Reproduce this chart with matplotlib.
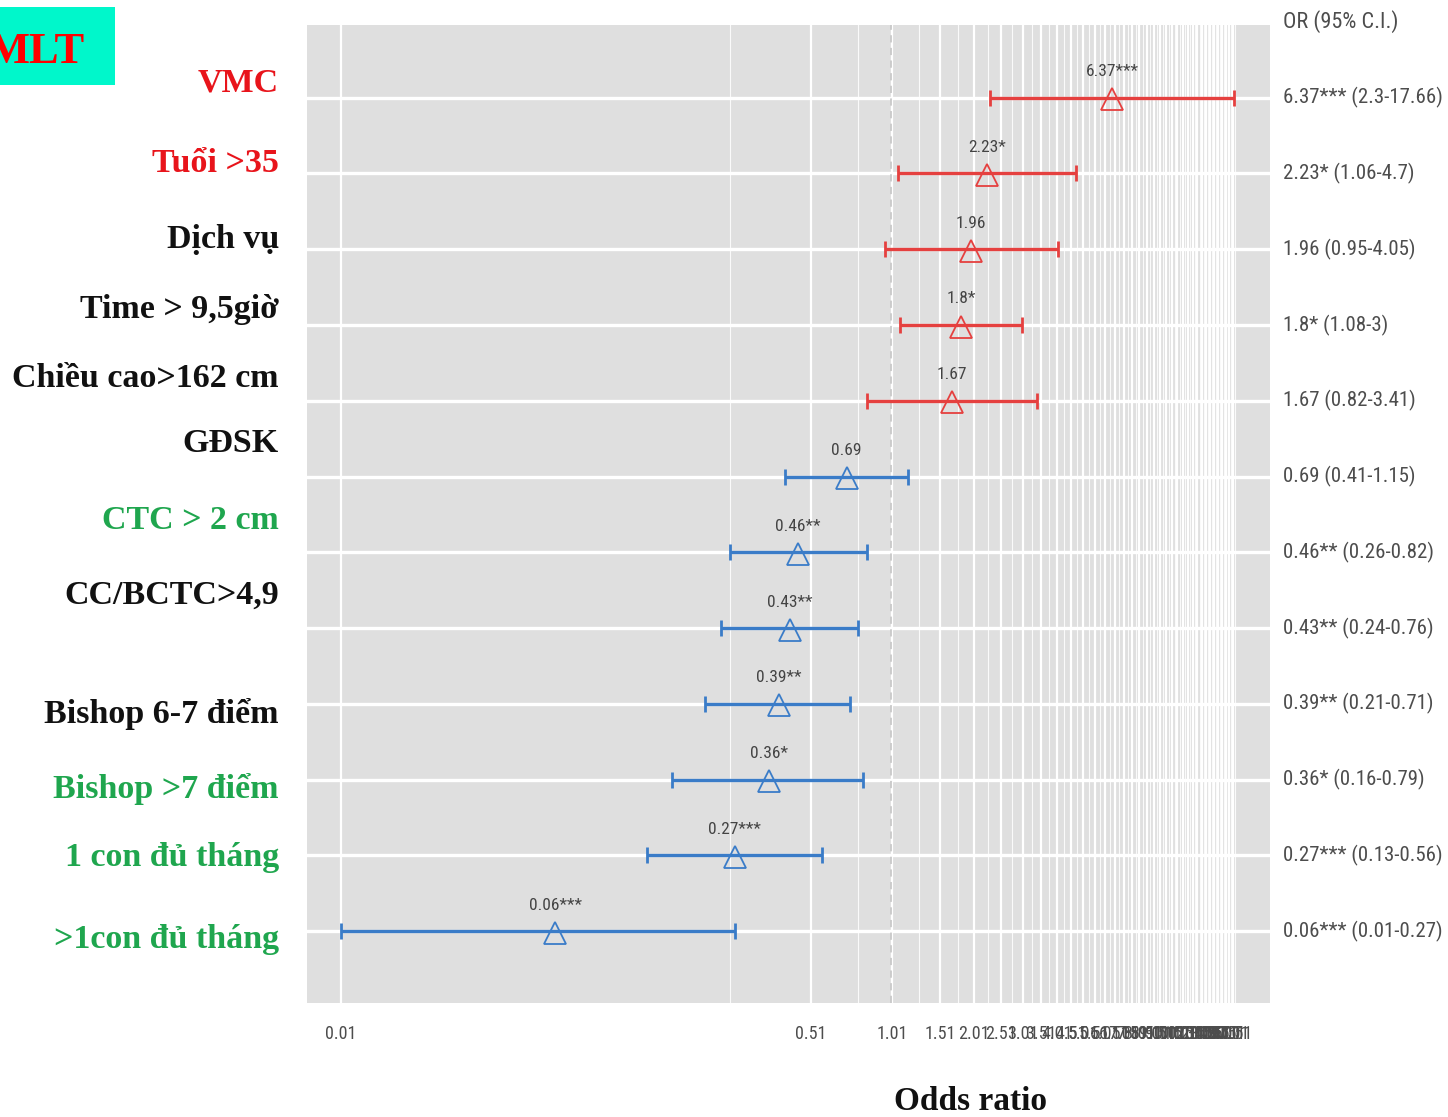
import matplotlib
matplotlib.use('Agg')
import matplotlib.pyplot as plt
from matplotlib.patches import Rectangle
from matplotlib import font_manager as fm

# ---------------- data ----------------
row_labels = ['VMC', 'Tuổi >35', 'Dịch vụ', 'Time > 9,5giờ', 'Chiều cao>162 cm', 'GĐSK',
              'CTC > 2 cm', 'CC/BCTC>4,9', 'Bishop 6-7 điểm', 'Bishop >7 điểm',
              '1 con đủ tháng', '>1con đủ tháng']
label_colors = ['#E8141B', '#E8141B', '#111111', '#111111', '#111111', '#111111',
                '#1FA64E', '#111111', '#111111', '#1FA64E', '#1FA64E', '#1FA64E']
odds = [6.37, 2.23, 1.96, 1.8, 1.67, 0.69, 0.46, 0.43, 0.39, 0.36, 0.27, 0.06]
lower = [2.3, 1.06, 0.95, 1.08, 0.82, 0.41, 0.26, 0.24, 0.21, 0.16, 0.13, 0.01]
upper = [17.66, 4.7, 4.05, 3, 3.41, 1.15, 0.82, 0.76, 0.71, 0.79, 0.56, 0.27]
stars = ['***', '*', '', '*', '', '', '**', '**', '**', '*', '***', '***']
group = ['up'] * 5 + ['down'] * 7
major_ticks = [0.01, 0.51, 1.01, 1.51, 2.01, 2.51, 3.01, 3.51, 4.01, 4.51, 5.01, 5.51,
               6.01, 6.51, 7.01, 7.51, 8.01, 8.51, 9.01, 9.51, 10.01, 10.51, 11.01, 11.51,
               12.01, 12.51, 13.01, 13.51, 14.01, 14.51, 15.01, 15.51, 16.01, 16.51,
               17.01, 17.51]
minor_ticks = [0.26, 0.76, 1.26, 1.76, 2.26, 2.76, 3.26, 3.76, 4.26, 4.76, 5.26, 5.76,
               6.26, 6.76, 7.26, 7.76, 8.26, 8.76, 9.26, 9.76, 10.26, 10.76, 11.26, 11.76,
               12.26, 12.76, 13.26, 13.76, 14.26, 14.76, 15.26, 15.76, 16.26, 16.76,
               17.26, 17.76]

# ---------------- fonts ----------------
def pick_condensed():
    names = {f.name for f in fm.fontManager.ttflist}
    for cand in ['Liberation Sans Narrow', 'Roboto Condensed', 'Open Sans Condensed',
                 'Arial Narrow', 'Nimbus Sans Narrow', 'DejaVu Sans Condensed',
                 'Noto Sans Condensed']:
        if cand in names:
            return {'family': cand}, 1.0
    for f in fm.fontManager.ttflist:
        if (f.name in ('DejaVu Sans', 'Roboto', 'Open Sans', 'Noto Sans', 'Liberation Sans')
                and str(f.stretch) in ('condensed', 'semi-condensed', 'extra-condensed')
                and f.style == 'normal' and str(f.weight) in ('400', 'normal', 'regular')):
            return {'family': f.name, 'stretch': f.stretch}, 0.95
    return {'family': ['Liberation Sans', 'DejaVu Sans']}, 0.78

NARROW, SCALE = pick_condensed()
SERIF = ['Liberation Serif', 'DejaVu Serif']

W, H = 1448, 1117
fx = lambda px: px / W
fy = lambda py: 1 - py / H
col = {'up': '#E5403F', 'down': '#3A7CC8'}
GREY_TXT = '#4D4D4D'

fig = plt.figure(figsize=(W / 100, H / 100), dpi=100)
fig.patch.set_facecolor('white')

ax = fig.add_axes([fx(307), fy(1003), fx(1270) - fx(307), fy(25) - fy(1003)])
ax.set_facecolor('#DFDFDF')
ax.set_xscale('log')
ax.set_xlim(0.00752, 23.9)
n = len(odds)
ax.set_ylim(0.05, n + 0.96)
for s in ax.spines.values():
    s.set_visible(False)

ys = [n - i for i in range(n)]

# grid
for v in minor_ticks:
    ax.axvline(v, color='white', lw=0.8, alpha=0.85, zorder=0)
for v in major_ticks:
    ax.axvline(v, color='white', lw=1.6, zorder=0)
for y in ys:
    ax.axhline(y, color='white', lw=2.4, zorder=0)
ax.axvline(1, color='#C9C9C9', lw=1.3, ls=(0, (4, 3)), zorder=1)

# error bars and points
for i in range(n):
    c = col[group[i]]
    ax.errorbar(odds[i], ys[i], xerr=[[odds[i] - lower[i]], [upper[i] - odds[i]]],
                fmt='none', ecolor=c, elinewidth=2.4, capsize=6, capthick=2.0, zorder=3)
    ax.plot(odds[i], ys[i] - 0.02, marker='^', ms=16, mfc='none', mec=c, mew=1.3,
            ls='none', zorder=4)
    ax.annotate(f"{odds[i]:g}{stars[i]}", (odds[i], ys[i]), xytext=(0, 26),
                textcoords='offset pixels', ha='center', va='center',
                fontsize=12.5 * SCALE, color='#444444', zorder=5, **NARROW)

ax.set_yticks([])
ax.set_xticks(major_ticks)
ax.set_xticklabels([f"{v:.2f}" for v in major_ticks], fontsize=13 * SCALE,
                   color=GREY_TXT, **NARROW)
ax.set_xticks([], minor=True)
ax.tick_params(axis='x', length=0, pad=16)

# right-hand OR text
fig.text(fx(1283), fy(22), 'OR (95% C.I.)', ha='left', va='center', fontsize=16 * SCALE,
         color=GREY_TXT, **NARROW)
for i in range(n):
    txt = f"{odds[i]:g}{stars[i]} ({lower[i]:g}-{upper[i]:g})"
    ax.annotate(txt, xy=(1.0, ys[i]), xycoords=('axes fraction', 'data'),
                xytext=(13, 0), textcoords='offset pixels', ha='left', va='center',
                fontsize=15 * SCALE, color=GREY_TXT, annotation_clip=False, **NARROW)

# left labels (placed as in the reference)
label_centers = [81, 161, 237, 307, 376, 441, 518, 593, 712, 787, 855, 937]
for lab, c, yc in zip(row_labels, label_colors, label_centers):
    fig.text(fx(279), fy(yc + 11), lab, ha='right', va='baseline', fontsize=24.5,
             fontweight='bold', family=SERIF, color=c)

# x label
fig.text(fx(970), fy(1101), 'Odds ratio', ha='center', va='center', fontsize=24,
         fontweight='bold', family=SERIF, color='#111111')

# MLT badge
fig.patches.append(Rectangle((0, fy(85)), fx(115), fy(7) - fy(85), transform=fig.transFigure,
                             facecolor='#00F7CB', edgecolor='none', zorder=0))
fig.text(fx(84), fy(63), 'MLT', ha='right', va='baseline', fontsize=32,
         fontweight='bold', family=SERIF, color='#FF0000')

fig.savefig('out.png', dpi=100, facecolor='white')
